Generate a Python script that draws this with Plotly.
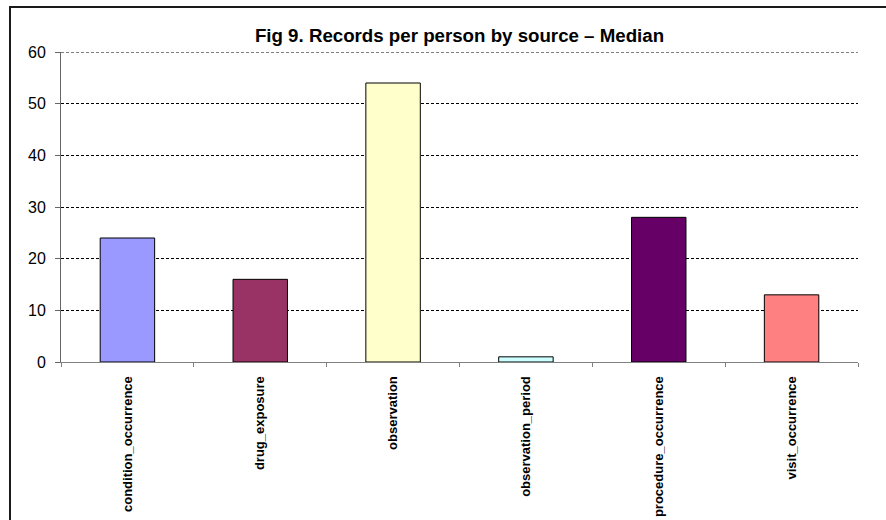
import plotly.graph_objects as go

# Median number of records per person for each CDM source table
sources = [
    "condition_occurrence",
    "drug_exposure",
    "observation",
    "observation_period",
    "procedure_occurrence",
    "visit_occurrence",
]
median_records = [24, 16, 54, 1, 28, 13]
bar_colors = ["#9999FF", "#993366", "#FFFFCC", "#CCFFFF", "#660066", "#FF8080"]
y_max = 60

W, H = 886, 520
left, right, top, bottom = 61, 858, 52, 362

fig = go.Figure(
    go.Bar(
        x=sources,
        y=median_records,
        marker=dict(color=bar_colors, line=dict(color="#000000", width=1)),
        width=0.41,
        hoverinfo="x+y",
    )
)

font_family = "Liberation Sans, Arial, sans-serif"

fig.update_layout(
    width=W,
    height=H,
    margin=dict(l=left, r=W - right, t=top, b=H - bottom, pad=0, autoexpand=False),
    paper_bgcolor="#FFFFFF",
    plot_bgcolor="#FFFFFF",
    showlegend=False,
    bargap=0.59,
    font=dict(family=font_family, color="#000000"),
    title=dict(
        text="<b>Fig 9. Records per person by source – Median</b>",
        font=dict(family=font_family, size=18.7, color="#000000"),
        x=(left + right) / 2 / W,
        xanchor="center",
        xref="container",
        y=1 - 35 / H,
        yanchor="middle",
        yref="container",
    ),
    xaxis=dict(
        automargin=False,
        showgrid=False,
        showline=True,
        linecolor="#808080",
        linewidth=1,
        ticks="outside",
        tickson="boundaries",
        ticklen=4,
        tickcolor="#808080",
        tickangle=-90,
        ticklabelstandoff=8,
        tickfont=dict(family=font_family, size=13, weight="bold", color="#000000"),
        zeroline=False,
    ),
    yaxis=dict(
        automargin=False,
        range=[0, y_max],
        dtick=10,
        tick0=0,
        showgrid=True,
        gridcolor="#000000",
        gridwidth=1,
        griddash="3px,2px",
        showline=True,
        linecolor="#666666",
        linewidth=1,
        ticks="outside",
        ticklen=5,
        tickcolor="#666666",
        ticklabelstandoff=6,
        tickfont=dict(family=font_family, size=16, color="#000000"),
        zeroline=False,
    ),
)

# Gridline at the top of the value axis (Plotly omits it at the range edge)
fig.add_shape(
    type="line",
    xref="paper",
    yref="y",
    x0=0,
    x1=1,
    y0=y_max,
    y1=y_max,
    line=dict(color="#000000", width=1, dash="3px,2px"),
    layer="below",
)

# Outer chart frame (its right and bottom edges run past the page)
pw, ph = right - left, bottom - top
fig.add_shape(
    type="rect",
    xref="paper",
    yref="paper",
    x0=(10 - left) / pw,
    x1=(W + 20 - left) / pw,
    y0=(bottom - (H + 20)) / ph,
    y1=(bottom - 7) / ph,
    line=dict(color="#1a1a1a", width=2),
    fillcolor="rgba(0,0,0,0)",
    layer="below",
)

fig.write_html("out.html")
